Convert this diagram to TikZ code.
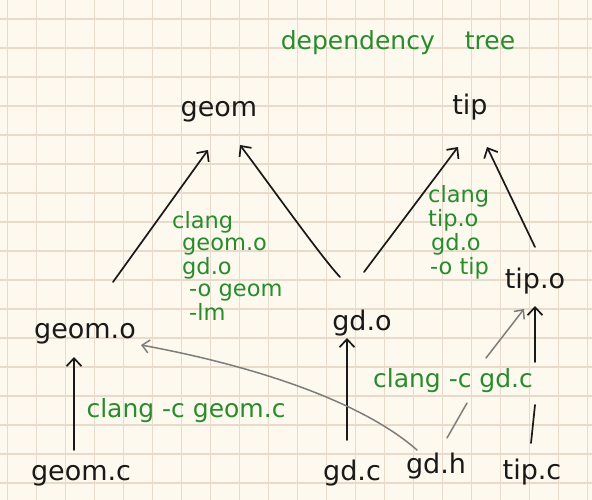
\documentclass[tikz,border=0pt]{standalone}
\usepackage{fontspec}
\setmainfont{DejaVu Sans}
\usetikzlibrary{arrows.meta,calc}
\definecolor{paper}{RGB}{253,249,238}
\definecolor{gridc}{RGB}{232,219,203}
\definecolor{pen}{RGB}{25,25,25}
\definecolor{gpen}{RGB}{40,140,45}
\definecolor{graypen}{RGB}{125,125,125}
\begin{document}
\begin{tikzpicture}[x=1pt,y=-1pt,
  blk/.style={anchor=base, inner sep=0pt, text=pen, font=\fontsize{27}{30}\selectfont},
  grn/.style={anchor=base, inner sep=0pt, text=gpen, font=\fontsize{25}{28}\selectfont},
  grnblock/.style={anchor=base west, inner sep=0pt, text=gpen, font=\fontsize{22.5}{22.5}\selectfont},
  link/.style={draw=pen, line width=1.7pt, line cap=round},
  arr/.style={link, -{Straight Barb[length=8pt,width=15pt]}},
  glink/.style={draw=graypen, line width=1.5pt, line cap=round},
  garr/.style={glink, -{Straight Barb[length=7pt,width=13pt]}},
  gridline/.style={draw=gridc, line width=1.3pt}
]
\fill[paper] (0,0) rectangle (592,500);
\useasboundingbox (0,0) rectangle (592,500);
\begin{scope}
\clip (0,0) rectangle (592,500);
\draw[gridline, shift={(7.3,19)}] (-29,-29) grid[step=29pt] (600,500);
\end{scope}

% title
\node[grn] (title) at (398,50) {dependency\hspace{1.2em}tree};

% nodes
\node[blk] (geom) at (219,117) {geom};
\node[blk] (tip) at (470,115) {tip};
\node[blk] (geomo) at (85,338) {geom.o};
\node[blk] (gdo) at (362,330) {gd.o};
\node[blk] (tipo) at (535,288) {tip.o};
\node[blk] (geomc) at (81,480) {geom.c};
\node[blk] (gdc) at (352,480) {gd.c};
\node[blk] (gdh) at (436,473) {gd.h};
\node[blk] (tipc) at (532,479) {tip.c};

% green labels
\node[grn] (cgeom) at (186,417) {clang -c geom.c};
\node[grn] (cgd) at (453,387) {clang -c gd.c};
\node[grnblock] (lgeom) at (172,228) {\begin{tabular}[t]{@{}l@{}}clang\\\hspace*{10pt}geom.o\\\hspace*{10pt}gd.o\\\hspace*{17pt}-o geom\\\hspace*{17pt}-lm\end{tabular}};
\node[grnblock] (ltip) at (428,203) {\begin{tabular}[t]{@{}l@{}}clang\\tip.o\\\hspace*{3pt}gd.o\\\hspace*{2pt}-o tip\end{tabular}};

% black connectors
\draw[arr] ($(geomc.base)+(-7,-30)$) -- ($(geomo.base)+(-11,19)$);
\draw[arr] ($(gdc.base)+(-5,-40)$) -- ($(gdo.base)+(-15,8)$);
\draw[link] ($(tipc.base)+(-1,-36)$) -- ($(tipc.base)+(3,-74)$);
\draw[arr] ($(tipo.base)+(0,74)$) -- ($(tipo.base)+(0,18)$);
\draw[arr] ($(geomo.base)+(28,-56)$) -- ($(geom.base)+(-11,33)$);
\draw[arr] ($(gdo.base)+(-22,-53)$) .. controls (322,258) and (270,185) .. ($(geom.base)+(21,28)$);
\draw[arr] ($(gdo.base)+(2,-58)$) -- ($(tip.base)+(-12,32)$);
\draw[arr] ($(tipo.base)+(0,-41)$) -- ($(tip.base)+(17,32)$);

% gray connectors from gd.h
\draw[garr] ($(gdh.base)+(-19,-23)$) .. controls (360,400) and (250,365) .. ($(geomo.base)+(56,7)$);
\draw[glink] ($(gdh.base)+(11,-35)$) -- ($(gdh.base)+(31,-70)$);
\draw[garr] ($(tipo.base)+(-49,70)$) -- ($(tipo.base)+(-11,21)$);
\end{tikzpicture}
\end{document}
